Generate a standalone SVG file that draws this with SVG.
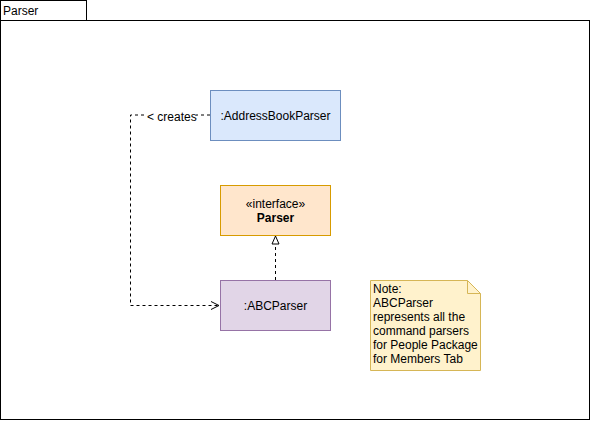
<svg xmlns="http://www.w3.org/2000/svg" width="591" height="421" viewBox="0 0 591 421">
<style>
text{font-family:"Liberation Sans",Arial,sans-serif;font-size:12px;fill:#000}
.c{text-anchor:middle}
.e{fill:none;stroke:#000;stroke-dasharray:3 3}
</style>
<defs>
<marker id="open" viewBox="0 0 10 10" refX="9" refY="5" markerWidth="10" markerHeight="10" markerUnits="userSpaceOnUse" orient="auto"><path d="M1,1 L9,5 L1,9" fill="none" stroke="#000"/></marker>
<marker id="tri" viewBox="0 0 10 10" refX="9" refY="5" markerWidth="10" markerHeight="10" markerUnits="userSpaceOnUse" orient="auto"><path d="M1,1.5 L9,5 L1,8.5 Z" fill="#fff" stroke="#000"/></marker>
</defs>
<rect width="591" height="421" fill="#fff"/>
<g id="package">
<rect x="0.5" y="0.5" width="86" height="20" fill="#fff" stroke="#000"/>
<rect x="0.5" y="20.5" width="589" height="399" fill="none" stroke="#000"/>
<text x="3" y="15">Parser</text>
</g>
<g id="connectors">
<path class="e" d="M210,115 H130.5 V305.5 H219" marker-end="url(#open)"/>
<rect x="146" y="109" width="50" height="14" fill="#fff"/>
<text x="147" y="121">&lt; creates</text>
<path class="e" d="M275.5,280 V236" marker-end="url(#tri)"/>
</g>
<g id="addressBookParser">
<rect x="210.5" y="90.5" width="130" height="50" fill="#dae8fc" stroke="#6c8ebf"/>
<text class="c" x="275.5" y="120">:AddressBookParser</text>
</g>
<g id="parserInterface">
<rect x="220.5" y="185.5" width="110" height="50" fill="#ffe6cc" stroke="#d79b00"/>
<text class="c" x="275.5" y="208">«interface»</text>
<text class="c" x="275.5" y="222" font-weight="bold">Parser</text>
</g>
<g id="abcParser">
<rect x="220.5" y="280.5" width="110" height="50" fill="#e1d5e7" stroke="#9673a6"/>
<text class="c" x="275.5" y="310">:ABCParser</text>
</g>
<g id="note">
<path d="M370.5,280.5 H467.5 L480.5,293.5 V370.5 H370.5 Z" fill="#fff2cc" stroke="#d6b656"/>
<path d="M467.5,280.5 V293.5 H480.5" fill="none" stroke="#d6b656"/>
<text x="373" y="293">Note:</text>
<text x="373" y="307">ABCParser</text>
<text x="373" y="321">represents all the</text>
<text x="373" y="335">command parsers</text>
<text x="373" y="349">for People Package</text>
<text x="373" y="363">for Members Tab</text>
</g>
</svg>
